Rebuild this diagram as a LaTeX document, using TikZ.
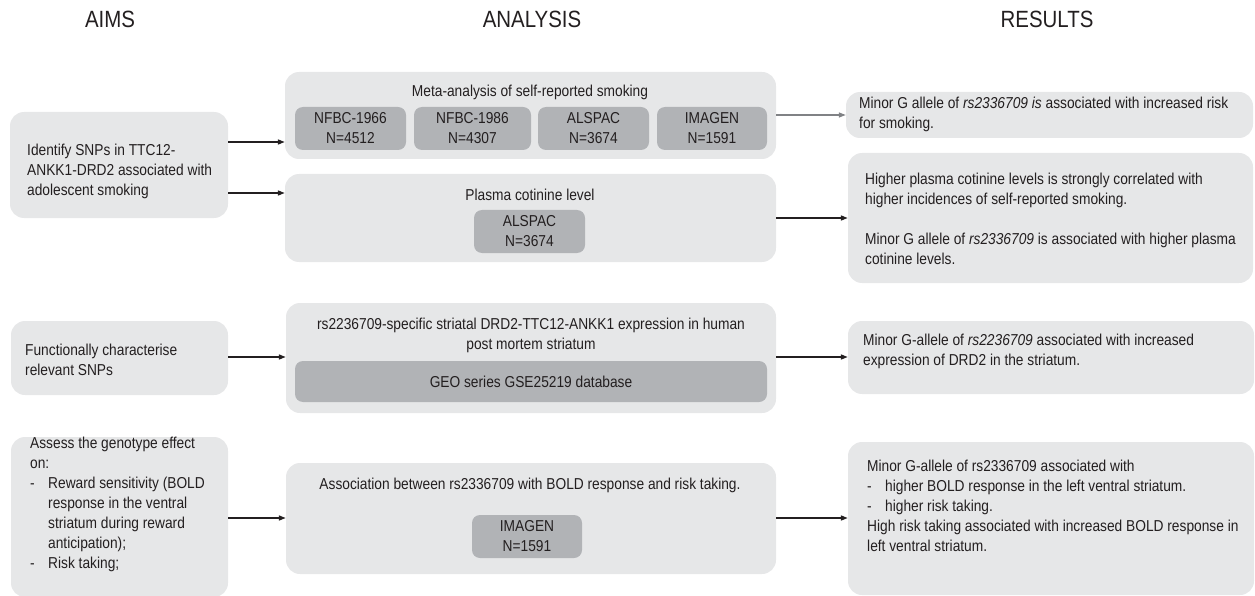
\documentclass[tikz,border=0pt]{standalone}
\usepackage{fontspec}
\setmainfont{Liberation Sans}[FakeStretch=0.87]
\usetikzlibrary{arrows.meta}
\definecolor{boxgrey}{HTML}{E6E7E8}
\definecolor{cohortgrey}{HTML}{B1B3B6}
\definecolor{inkgrey}{HTML}{231F20}
\definecolor{arrowgrey}{HTML}{808285}
\newcommand{\bodyfont}{\fontsize{15.8}{20}\selectfont}
\newcommand{\headfont}{\fontsize{23.5}{28}\selectfont}
\newcommand{\bul}{\makebox[18pt][l]{-}}
\begin{document}
\begin{tikzpicture}[x=1pt, y=-1pt,
  panel/.style={fill=boxgrey, rounded corners=14pt, inner sep=0pt},
  cohort/.style={fill=cohortgrey, rounded corners=8pt, inner sep=0pt, align=center, font=\bodyfont, text=inkgrey},
  txt/.style={inner sep=0pt, align=left, font=\bodyfont, text=inkgrey, anchor=west},
  ttl/.style={inner sep=0pt, align=center, font=\bodyfont, text=inkgrey},
  head/.style={inner sep=0pt, font=\headfont, text=inkgrey},
  arr/.style={line width=1.5pt, draw=inkgrey, -{Triangle[length=7pt, width=5pt]}},
  arrgrey/.style={line width=1.3pt, draw=arrowgrey, -{Triangle[length=7pt, width=5pt]}}]
\useasboundingbox (0,0) rectangle (1255,596);
\node[head] (hAims) at (110,19.5){AIMS};
\node[head] (hAnalysis) at (532,19.5){ANALYSIS};
\node[head] (hResults) at (1047,19.5){RESULTS};
\node[panel, minimum width=218, minimum height=106] (aimA) at (119,165){};
\node[txt] (aimAtxt) at (27,171){Identify SNPs in TTC12-\\ANKK1-DRD2 associated with\\adolescent smoking};
\node[panel, minimum width=217, minimum height=74] (aimB) at (119.5,358){};
\node[txt] (aimBtxt) at (25,359.5){Functionally characterise\\relevant SNPs};
\node[panel, minimum width=217, minimum height=160] (aimC) at (119.5,517){};
\node[txt] (aimCtxt) at (30,504.5){Assess the genotype effect\\on:\\\bul Reward sensitivity (BOLD\\\hspace*{18pt}response in the ventral\\\hspace*{18pt}striatum during reward\\\hspace*{18pt}anticipation);\\\bul Risk taking;};
\node[panel, minimum width=491, minimum height=87] (anaA) at (530.5,115.5){};
\node[ttl] (anaAttl) at (530,92){Meta-analysis of self-reported smoking};
\node[cohort, minimum width=111, minimum height=43] (nfbcA) at (350.5,128.5){NFBC-1966\\N=4512};
\node[cohort, minimum width=117, minimum height=43] (nfbcB) at (472.5,128.5){NFBC-1986\\N=4307};
\node[cohort, minimum width=111, minimum height=43] (alspacA) at (593.5,128.5){ALSPAC\\N=3674};
\node[cohort, minimum width=110, minimum height=43] (imagenA) at (712,128.5){IMAGEN\\N=1591};
\node[panel, minimum width=491, minimum height=88] (anaB) at (530.5,218){};
\node[ttl] (anaBttl) at (530,195){Plasma cotinine level};
\node[cohort, minimum width=111, minimum height=43] (alspacB) at (529.5,231.5){ALSPAC\\N=3674};
\node[panel, minimum width=490, minimum height=110] (anaC) at (531,358){};
\node[ttl] (anaCttl) at (531,335){rs2236709-specific striatal DRD2-TTC12-ANKK1 expression in human\\post mortem striatum};
\node[cohort, minimum width=472, minimum height=41] (geo) at (531,381.5){GEO series GSE25219 database};
\node[panel, minimum width=490, minimum height=111] (anaD) at (531,518.5){};
\node[ttl] (anaDttl) at (530,485){Association between rs2336709 with BOLD response and risk taking.};
\node[cohort, minimum width=110, minimum height=43] (imagenD) at (527,536.5){IMAGEN\\N=1591};
\node[panel, minimum width=407, minimum height=46] (resA) at (1049.5,115){};
\node[txt] (resAtxt) at (859,114){Minor G allele of \textit{rs2336709 is} associated with increased risk\\for smoking.};
\node[panel, minimum width=405, minimum height=130] (resB) at (1050.5,218){};
\node[txt] (resBtxt) at (865,218.5){Higher plasma cotinine levels is strongly correlated with\\higher incidences of self-reported smoking.\\[20pt]Minor G allele of \textit{rs2336709} is associated with higher plasma\\cotinine levels.};
\node[panel, minimum width=406, minimum height=73] (resC) at (1051,357.5){};
\node[txt] (resCtxt) at (863,351.5){Minor G-allele of \textit{rs2236709} associated with increased\\expression of DRD2 in the striatum.};
\node[panel, minimum width=406, minimum height=153] (resD) at (1051,518.5){};
\node[txt] (resDtxt) at (867,505.5){Minor G-allele of rs2336709 associated with\\\bul higher BOLD response in the left ventral striatum.\\\bul higher risk taking.\\High risk taking associated with increased BOLD response in\\left ventral striatum.};
\draw[arr] (aimA.east |- 0,142) -- (anaA.west |- 0,142);
\draw[arr] (aimA.east |- 0,193) -- (anaB.west |- 0,193);
\draw[arr] (aimB.east |- 0,357) -- (anaC.west |- 0,357);
\draw[arr] (aimC.east |- 0,518) -- (anaD.west |- 0,518);
\draw[arrgrey] (anaA.east |- 0,115) -- (resA.west |- 0,115);
\draw[arr] (anaB.east |- 0,218) -- (resB.west |- 0,218);
\draw[arr] (anaC.east |- 0,357) -- (resC.west |- 0,357);
\draw[arr] (anaD.east |- 0,518) -- (resD.west |- 0,518);
\end{tikzpicture}
\end{document}
